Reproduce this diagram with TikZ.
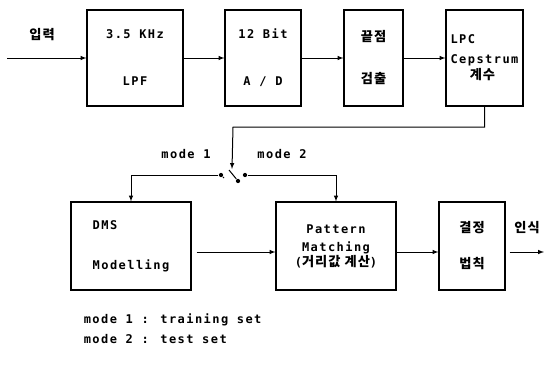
\documentclass[tikz,border=0pt]{standalone}
\usepackage{fontspec}
\setmainfont{DejaVu Sans Mono}[LetterSpace=12]
\newfontfamily\kr{Noto Sans CJK KR}[LetterSpace=8,Scale=1.1]
\usetikzlibrary{arrows}

\begin{document}
\begin{tikzpicture}[x=1pt, y=-1pt, >=latex,
        blk/.style={draw, line width=1.1pt, inner sep=1pt},
        swdot/.style={circle, fill, inner sep=1.5pt},
        every node/.style={font=\bfseries\fontsize{12}{14}\selectfont},
        every path/.style={line width=1pt}
    ]
        \useasboundingbox (0,0) rectangle (544,370);

        % Upper chain of blocks
        \node[blk, minimum width=96pt, minimum height=96pt, align=center] (lpf) at (135,58) {3.5 KHz\\[33pt]LPF};
        \node[blk, minimum width=76pt, minimum height=96pt, align=center] (adc) at (263,58) {12 Bit\\[33pt]A / D};
        \node[blk, minimum width=59pt, minimum height=96pt, align=center] (epd) at (373.5,58) {\kr 끝점\\[28pt]\kr 검출};
        \node[blk, minimum width=77pt, minimum height=96pt, align=left] (lpc) at (484.5,58) {LPC\\[6pt]Cepstrum\\[2pt]\hspace*{1.6em}{\kr 계수}};

        % Lower chain of blocks
        \node[blk, minimum width=120pt, minimum height=88pt, align=left] (dms) at (131,246) {DMS\\[26pt]Modelling};
        \node[blk, minimum width=120pt, minimum height=88pt, align=center] (pm) at (336,246) {Pattern\\[4pt]Matching\\[1pt]({\kr 거리값 계산})};
        \node[blk, minimum width=66pt, minimum height=88pt, align=center] (dec) at (472,246) {\kr 결정\\[22pt]\kr 법칙};

        % Input and labels
        \coordinate (in) at (7,58);
        \node (inlbl) at (42,35) {\kr 입력};
        \node (outlbl) at (527,228) {\kr 인식};
        \coordinate (out) at (544,252);

        % Arrows along the top
        \draw[->] (in) -- (lpf);
        \draw[->] (lpf) -- (adc);
        \draw[->] (adc) -- (epd);
        \draw[->] (epd) -- (lpc);

        % Switch between the two modes
        \coordinate (bend) at (233,127);
        \coordinate (pivot) at (232,169);
        \node[swdot] (t1) at (221,175) {};
        \node[swdot] (t2) at (245,175) {};
        \node[swdot] (arm) at (238,181) {};
        \draw[->] (lpc.south) |- (bend) -- (pivot);
        \draw (229,170) -- (arm);
        \draw (224,178) -- (t1);
        \node (m1) at (186,154) {mode 1};
        \node (m2) at (282,154) {mode 2};

        \draw[->] (t1) -| (dms.north);
        \draw[->] (t2) -| (pm.north);

        % Arrows along the bottom
        \draw[->] ([shift={(5pt,-6pt)}]dms.east) -- ([yshift=-6pt]pm.west);
        \draw[->] ([yshift=-6pt]pm.east) -- ([yshift=-6pt]dec.west);
        \draw[->] ([shift={(4pt,-6pt)}]dec.east) -- (out);

        % Legend
        \node[anchor=west] (leg1) at (80,320) {mode 1 : training set};
        \node[anchor=west] (leg2) at (80,339) {mode 2 : test set};
    \end{tikzpicture}
\end{document}
